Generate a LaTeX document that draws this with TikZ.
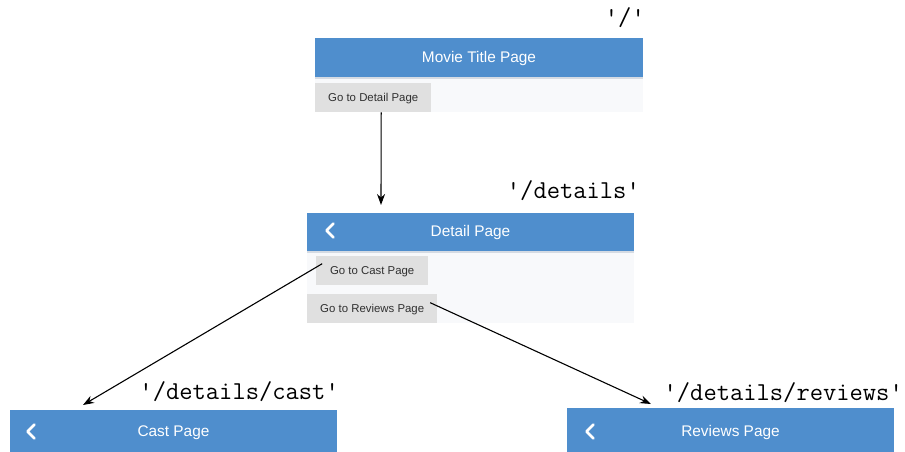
\documentclass[tikz,border=0pt]{standalone}
\usepackage{fontspec}
\setmainfont{Liberation Sans}
\usetikzlibrary{arrows.meta}
\definecolor{barblue}{HTML}{4F8ECD}
\definecolor{pagebg}{HTML}{F8F9FB}
\definecolor{btngray}{HTML}{E0E0E0}
\definecolor{btntext}{HTML}{303030}
\definecolor{shadowc}{HTML}{D5DBE3}
\tikzset{
  appbar/.style={fill=barblue, draw=none, minimum height=#1, inner sep=0pt, anchor=north west},
  bartitle/.style={text=white, font=\fontsize{15.4}{17}\selectfont, inner sep=0pt},
  pagebody/.style={fill=pagebg, draw=none, inner sep=0pt, anchor=north west},
  btnbox/.style={fill=btngray, draw=none, inner sep=0pt, anchor=north west, text=btntext, font=\fontsize{11.4}{13}\selectfont},
  route/.style={font=\ttfamily\fontsize{25.8}{28}\selectfont, inner sep=0pt, anchor=base east},
  chev/.style={draw=white, line width=2.6pt, line cap=round, line join=round},
  navarrow/.style={draw=black, line width=1.1pt, -{Stealth[length=11pt,width=8pt]}},
}
\begin{document}
\begin{tikzpicture}[x=1pt,y=-1pt]
\useasboundingbox (0,0) rectangle (905,452);
\fill[white] (0,0) rectangle (905,452);

% ---- Movie Title Page ----
\node[pagebody, minimum width=328pt, minimum height=34pt] (p1body) at (315,78) {};
\node[appbar=40pt, minimum width=328pt] (p1bar) at (315,38) {};
\fill[shadowc] (315,77.5) rectangle (643,79.5);
\node[bartitle] (p1title) at (479,59) {Movie Title Page};
\node[btnbox, minimum width=116pt, minimum height=29pt, text depth=1pt] (b1) at (315,83) {Go to Detail Page};
\node[route] (r1) at (645,26) {'/'};

% ---- Detail Page ----
\node[pagebody, minimum width=327pt, minimum height=72pt] (p2body) at (307,251) {};
\node[appbar=38pt, minimum width=327pt] (p2bar) at (307,213) {};
\fill[shadowc] (307,250.5) rectangle (634,252.5);
\node[bartitle] (p2title) at (470.5,232.5) {Detail Page};
\draw[chev] (333.5,223.5) -- (326.5,230.5) -- (333.5,237.5);
\node[btnbox, minimum width=112pt, minimum height=29pt, text depth=1pt] (b2) at (316,256) {Go to Cast Page};
\node[btnbox, minimum width=130pt, minimum height=29pt, text depth=1pt] (b3) at (307,294) {Go to Reviews Page};
\node[route] (r2) at (640,198) {'/details'};

% ---- Cast Page ----
\node[appbar=42pt, minimum width=327pt] (p3bar) at (10,410) {};
\node[bartitle] (p3title) at (173.5,433) {Cast Page};
\draw[chev] (34.5,424.5) -- (27.5,431.5) -- (34.5,438.5);
\node[route] (r3) at (339,399) {'/details/cast'};

% ---- Reviews Page ----
\node[appbar=44pt, minimum width=327pt] (p4bar) at (567,408) {};
\node[bartitle] (p4title) at (730.5,433) {Reviews Page};
\draw[chev] (593.5,424.5) -- (586.5,431.5) -- (593.5,438.5);
\node[route] (r4) at (903,400) {'/details/reviews'};

% ---- connectors ----
\coordinate (e1) at (381,205);
\coordinate (e2) at (83,405);
\coordinate (e3) at (651,404);
\draw[navarrow] ([xshift=8pt]b1.south) -- (e1);
\draw[navarrow] ([xshift=-50pt,yshift=7pt]b2.center) -- (e2);
\draw[navarrow] ([xshift=58pt,yshift=6pt]b3.center) -- (e3);
\end{tikzpicture}
\end{document}
